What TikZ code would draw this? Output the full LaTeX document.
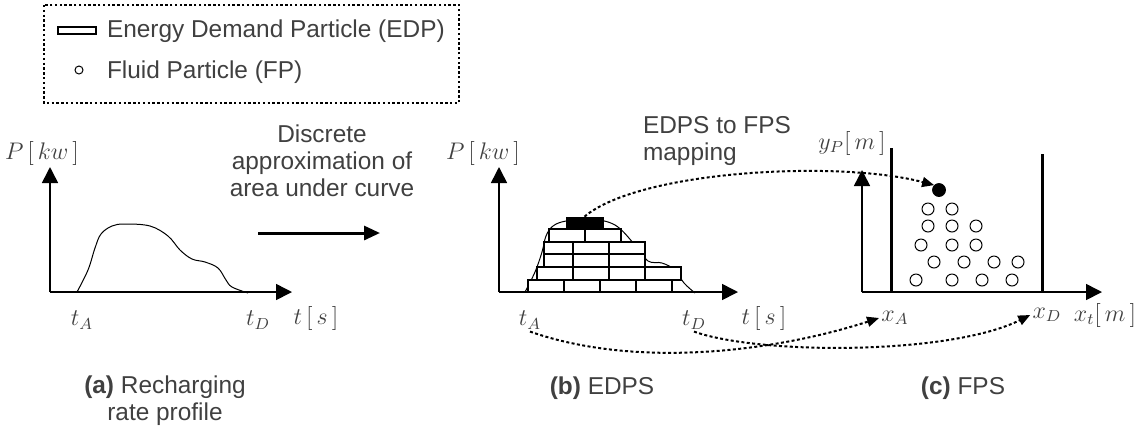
\documentclass[tikz,border=0pt]{standalone}
\usepackage{fontspec}
\setmainfont{Liberation Sans}
\usepackage{amsmath}
\usetikzlibrary{arrows.meta}
\definecolor{txtgray}{HTML}{404040}

\tikzset{
  axis/.style={line width=0.8pt, -{Triangle[length=8pt,width=8pt]}},
  brick/.style={draw, line width=0.6pt, fill=white},
  fluid/.style={draw, line width=0.5pt, circle, minimum size=6pt, inner sep=0pt},
  mapto/.style={line width=1pt, dash pattern=on 1.5pt off 1.2pt, -{Triangle[length=6pt,width=5pt]}},
  wall/.style={line width=1.5pt},
  lbl/.style={text=txtgray, font=\fontsize{12.2}{13.5}\selectfont, align=center},
  mlbl/.style={text=txtgray, font=\fontsize{11.5}{13}\selectfont, inner sep=1pt},
}

\begin{document}
\begin{tikzpicture}[x=0.5pt, y=-0.5pt]
        \useasboundingbox (0,0) rectangle (1145,436);

        %%%%%%%%%%%%%%%%%%%%%%%%%%%%%% legend
        \draw[line width=1pt, dash pattern=on 1.2pt off 1.2pt] (44,5) rectangle (459,103);
        \draw[line width=0.6pt] (58,27) rectangle (96,34);
        \node[fluid, minimum size=4pt] (fpicon) at (79,70) {};
        \node[lbl, anchor=west] (edptxt) at (100,31) {Energy Demand Particle (EDP)};
        \node[lbl, anchor=west] (fptxt) at (100,72) {Fluid Particle (FP)};

        %%%%%%%%%%%%%%%%%%%%%%%%%%%%%% (a) recharging rate profile
        \coordinate (oa) at (50,292);
        \draw[axis] (oa) -- (50,167);
        \draw[axis] (oa) -- (292,292);
        \draw[line width=0.5pt] plot[smooth, tension=0.6] coordinates {(77,292) (88,270) (95,248)
            (101,234) (112,226) (125,224) (150,226) (168,236) (180,250) (192,259) (205,262)
            (218,268) (226,280) (232,287) (248,293)};
        \node[mlbl] (pa) at (42,153) {$P\,[\,kw\,]$};
        \node[mlbl] (tAa) at (82,320) {$t_{A}$};
        \node[mlbl] (tDa) at (258,320) {$t_{D}$};
        \node[mlbl] (ta) at (316,318) {$t\,[\,s\,]$};

        \node[lbl] (disc) at (322,161) {Discrete\\approximation of\\area under curve};
        \coordinate (da) at (258,233);
        \coordinate (db) at (380,233);
        \draw[line width=1.5pt, -{Triangle[length=8pt,width=7pt]}] (da) -- (db);

        %%%%%%%%%%%%%%%%%%%%%%%%%%%%%% (b) EDPS
        \coordinate (ob) at (499,292);
        \draw[line width=0.5pt] plot[smooth, tension=0.6] coordinates {(525,292) (535,272) (542,252)
            (546,236) (553,226) (566,221) (590,219) (615,225) (635,245) (648,261) (662,263)
            (675,270) (684,283) (695,293)};
        \foreach \x in {528,564,600,636} \draw[brick] (\x,280) rectangle +(36,12);
        \foreach \x in {537,573,609,645} \draw[brick] (\x,267) rectangle +(36,13);
        \foreach \x/\w in {544/29,573/36,609/36} {
            \draw[brick] (\x,254) rectangle +(\w,13);
            \draw[brick] (\x,242) rectangle +(\w,12);
        }
        \foreach \x in {549,585} \draw[brick] (\x,229) rectangle +(36,13);
        \node[draw, fill=black, minimum width=18.5pt, minimum height=6pt, inner sep=0pt] (hot) at (584.5,223) {};
        \draw[axis] (ob) -- (499,167);
        \draw[axis] (ob) -- (738,292);
        \node[mlbl] (pb) at (483,153) {$P\,[\,kw\,]$};
        \node[mlbl] (tAb) at (530,320) {$t_{A}$};
        \node[mlbl] (tDb) at (694,320) {$t_{D}$};
        \node[mlbl] (tb) at (764,318) {$t\,[\,s\,]$};

        \node[lbl, align=left, anchor=west] (maptxt) at (636,141) {EDPS to FPS\\mapping};

        %%%%%%%%%%%%%%%%%%%%%%%%%%%%%% (c) FPS
        \coordinate (oc) at (862,292);
        \draw[axis] (oc) -- (862,170);
        \draw[axis] (oc) -- (1102,292);
        \draw[wall] (891,148) -- (891,292);
        \draw[wall] (1042,154) -- (1042,292);
        \foreach \x/\y in {928/209,952/209, 928/226,952/226,976/226, 921/245,952/245,976/245,
            934/262,964/262,994/262,1018/262, 916/280,952/280,982/280,1012/280}
            \node[fluid] at (\x,\y) {};
        \node[draw, circle, fill=black, minimum size=6.5pt, inner sep=0pt] (dot) at (939,190) {};
        \node[mlbl] (yc) at (852,143) {$y_{P}[\,m\,]$};
        \node[mlbl] (xA) at (895,318) {$x_{A}$};
        \node[mlbl] (xD) at (1047,315) {$x_{D}$};
        \node[mlbl] (xc) at (1105,315) {$x_{t}[\,m\,]$};

        %%%%%%%%%%%%%%%%%%%%%%%%%%%%%% mappings
        \draw[mapto] (hot.north) .. controls (640,170) and (840,160) .. (dot.north west);
        \draw[mapto] (tAb.south) .. controls (640,370) and (780,350) .. (xA.west);
        \draw[mapto] (tDb.south) .. controls (760,355) and (950,355) .. (xD.west);

        %%%%%%%%%%%%%%%%%%%%%%%%%%%%%% captions
        \node[lbl] (capa) at (165,401) {\textbf{(a)} Recharging\\rate profile};
        \node[lbl] (capb) at (602,388) {\textbf{(b)} EDPS};
        \node[lbl] (capc) at (963,388) {\textbf{(c)} FPS};
\end{tikzpicture}
\end{document}
